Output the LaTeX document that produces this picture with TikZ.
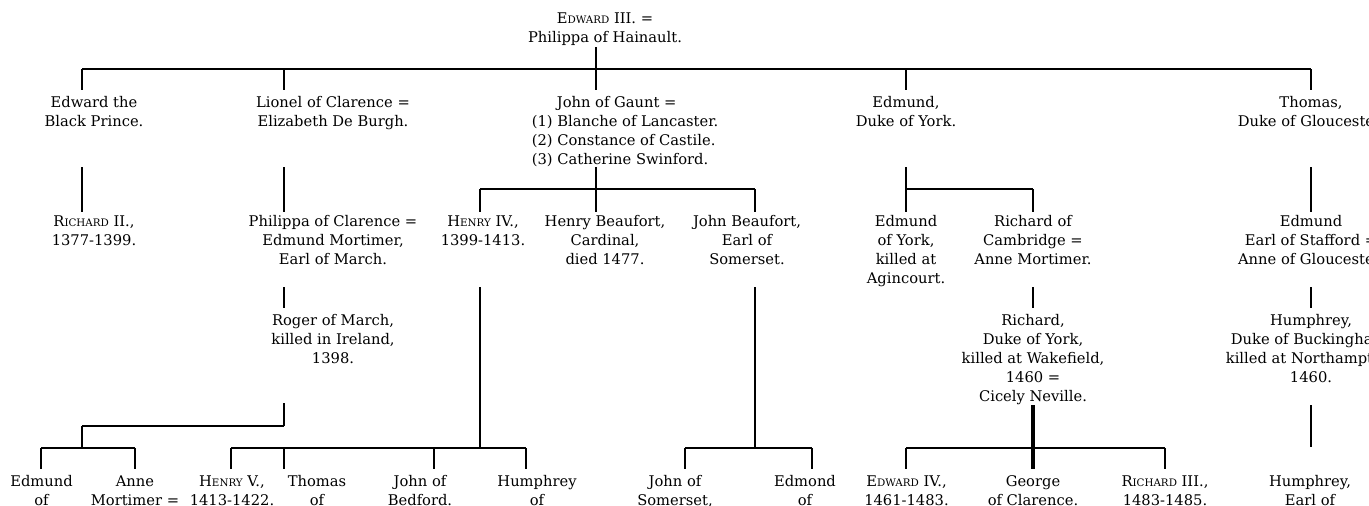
\documentclass[tikz,border=0pt]{standalone}
\usepackage{fontspec}
\setmainfont{DejaVu Serif}
\newcommand\scap[1]{{\fontsize{10.3}{19}\selectfont #1}}
\begin{document}
\begin{tikzpicture}[x=1pt,y=-1pt,
    person/.style={align=center,anchor=base,inner sep=0pt,font=\fontsize{14.7}{19}\selectfont},
    bar/.style={line width=2pt},
    stem/.style={line width=2.6pt}]
  \clip(0,0)rectangle(1369,506);
  % Edward III (nodes sit on the baseline of their last line)
  \node[person](edw3)at(605,42.3){E\scap{DWARD} III. =\\Philippa of Hainault.};
  % his sons
  \node[person](blackprince)at(94,126.3){Edward the\\Black Prince.};
  \node[person](lionel)at(333,126.3){Lionel of Clarence =\\Elizabeth De Burgh.};
  \node[person,align=left,anchor=base west](gaunt)at(531.7,164.3){\hspace*{25pt}John of Gaunt =\\(1) Blanche of Lancaster.\\(2) Constance of Castile.\\(3) Catherine Swinford.};
  \node[person](edmund)at(906,126.3){Edmund,\\Duke of York.};
  \node[person](thomas)at(1311,126.3){Thomas,\\Duke of Gloucester.};
  % grandchildren
  \node[person](richard2)at(94,245.7){R\scap{ICHARD} II.,\\1377-1399.};
  \node[person](philippa)at(333,264.7){Philippa of Clarence =\\Edmund Mortimer,\\Earl of March.};
  \node[person](henry4)at(483,245.7){H\scap{ENRY} IV.,\\1399-1413.};
  \node[person](hbeaufort)at(605,264.7){Henry Beaufort,\\Cardinal,\\died 1477.};
  \node[person](jbeaufort)at(747,264.7){John Beaufort,\\Earl of\\Somerset.};
  \node[person](edmundy)at(906,283.7){Edmund\\of York,\\killed at\\Agincourt.};
  \node[person](cambridge)at(1033,264.7){Richard of\\Cambridge =\\Anne Mortimer.};
  \node[person](stafford)at(1311,264.7){Edmund\\Earl of Stafford =\\Anne of Gloucester.};
  % third row
  \node[person](roger)at(333,363){Roger of March,\\killed in Ireland,\\1398.};
  \node[person](richyork)at(1033,401){Richard,\\Duke of York,\\killed at Wakefield,\\1460 =\\Cicely Neville.};
  \node[person](buckingham)at(1311,382){Humphrey,\\Duke of Buckingham,\\killed at Northampton,\\1460.};
  % bottom row
  \node[person](edmundm)at(41.5,505.5){Edmund\\of};
  \node[person](annem)at(135,505.5){Anne\\Mortimer =};
  \node[person](henry5)at(232,505.5){H\scap{ENRY} V.,\\1413-1422.};
  \node[person](thomasc)at(317,505.5){Thomas\\of};
  \node[person](bedford)at(420,505.5){John of\\Bedford.};
  \node[person](humglou)at(537,505.5){Humphrey\\of};
  \node[person](johnsom)at(675,505.5){John of\\Somerset,};
  \node[person](edmonds)at(805,505.5){Edmond\\of};
  \node[person](edward4)at(906.5,505.5){E\scap{DWARD} IV.,\\1461-1483.};
  \node[person](george)at(1033,505.5){George\\of Clarence.};
  \node[person](richard3)at(1165,505.5){R\scap{ICHARD} III.,\\1483-1485.};
  \node[person](humstaff)at(1310,505.5){Humphrey,\\Earl of};
  % joints of the tree
  \foreach \n/\x/\y in {e3a/596/47,e3b/596/90,
      bp1/82/69,bp2/82/90,li1/284/69,li2/284/90,ed1/906/69,ed2/906/90,th1/1311/69,th2/1311/90,
      bp3/82/167,bp4/82/212,li3/284/167,li4/284/212,ga3/596/167,ga4/596/212,
      ed3/906/167,ed4/906/212,th3/1311/167,th4/1311/212,
      he1/480/189,he2/480/212,jb1/755/189,jb2/755/212,yb/906/189,ca1/1033/189,ca2/1033/212,
      li5/284/287,li6/284/308,ca3/1033/287,ca4/1033/308,th5/1311/287,th6/1311/308,
      he3/480/287,hb/480/448,jb3/755/287,jbb/755/448,
      ro1/284/403,ro2/284/426,rb/82/426,rc/82/448,
      ry1/1033/405,ry2/1033/469,bu1/1311/405,bu2/1311/447,
      k1/41/448,k2/135/448,k3/231/448,k4/284/448,k5/434/448,k6/526/448,
      k7/685/448,k8/812/448,k9/906/448,k10/1165/448}
    \coordinate(\n)at(\x,\y);
  % first generation
  \draw[stem](e3a)--(e3b);
  \draw[bar](bp1)--(th1);
  \foreach \c in {bp,li,ed,th}
    \draw[stem](\c1)--(\c2);
  % second generation
  \foreach \c in {bp,li,ga,ed,th}
    \draw[stem](\c3)--(\c4);
  \draw[bar](he1)--(jb1);
  \draw[stem](he1)--(he2);
  \draw[stem](jb1)--(jb2);
  \draw[bar](yb)--(ca1);
  \draw[stem](ca1)--(ca2);
  % third generation
  \draw[stem](li5)--(li6);
  \draw[stem](ca3)--(ca4);
  \draw[stem](th5)--(th6);
  \draw[stem](he3)--(hb);
  \draw[stem](jb3)--(jbb);
  \draw[stem](ro1)--(ro2);
  \draw[bar](rb)--(ro2);
  \draw[stem](rb)--(rc);
  \draw[line width=3.4pt](ry1)--(ry2);
  \draw[stem](bu1)--(bu2);
  % bottom row
  \draw[bar](k1)--(k2);
  \draw[bar](k3)--(k6);
  \draw[bar](k7)--(k8);
  \draw[bar](k9)--(k10);
  \foreach \k in {k1,k2,k3,k4,k5,k6,k7,k8,k9,k10}
    \draw[stem](\k)--++(0,21);
\end{tikzpicture}
\end{document}
